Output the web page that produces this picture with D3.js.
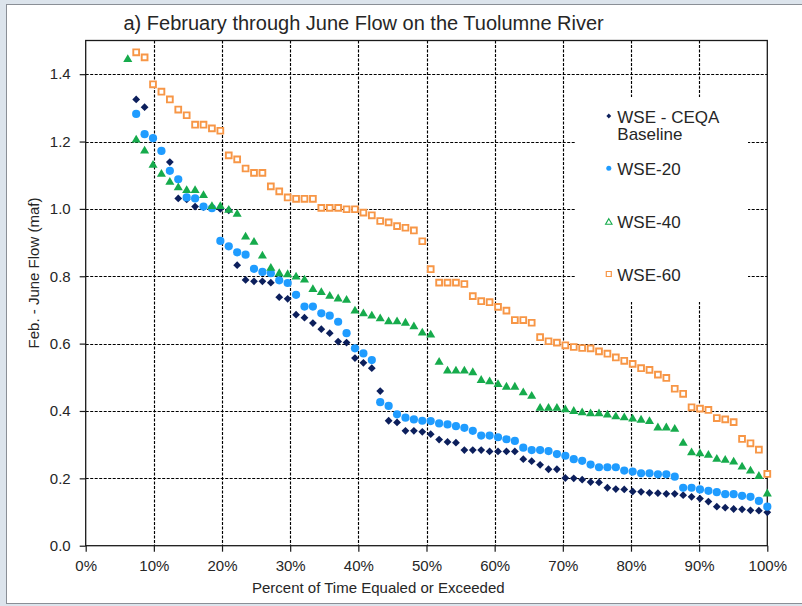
<!DOCTYPE html>
<html>
<head>
<meta charset="utf-8">
<script src="https://cdn.jsdelivr.net/npm/d3@7"></script>
<style>
  html, body { margin: 0; padding: 0; background: #dce4ec; }
  svg { display: block; }
  text { font-family: "Liberation Sans", Arial, sans-serif; fill: #262626; }
</style>
</head>
<body>
<svg id="chart" width="802" height="606"></svg>
<script>
// ---- Chart text ----
const chartTitle = "a) February through June Flow on the Tuolumne River";
const xAxisTitle = "Percent of Time Equaled or Exceeded";
const yAxisTitle = "Feb. - June Flow (maf)";

// ---- Axis ticks ----
const xTickValues = [0, 10, 20, 30, 40, 50, 60, 70, 80, 90, 100];
const yTickValues = [0, 0.2, 0.4, 0.6, 0.8, 1.0, 1.2, 1.4];
const yAxisMax = 1.5;

// ---- Series ----
// Years in the record; each value is ranked (1 = wettest) and plotted at rank / nYears.
const nYears = 81;
const seriesNames = ["WSE - CEQA Baseline", "WSE-20", "WSE-40", "WSE-60"];
const legendLines = [["WSE - CEQA", "Baseline"], ["WSE-20"], ["WSE-40"], ["WSE-60"]];
// Rank of the first value in each list (wetter years lie above 1.5 maf).
const firstRank = [6, 6, 5, 6];

const baselineFlow = [
  1.325, 1.302, 1.210, 1.172, 1.139, 1.031, 1.028, 1.007, 1.005, 1.003,
  1.000, 0.996, 0.833, 0.789, 0.785, 0.785, 0.781, 0.738, 0.733, 0.686,
  0.677, 0.661, 0.643, 0.631, 0.606, 0.603, 0.557, 0.543, 0.527, 0.459,
  0.371, 0.366, 0.341, 0.341, 0.338, 0.331, 0.315, 0.308, 0.306, 0.284,
  0.284, 0.284, 0.280, 0.280, 0.280, 0.280, 0.257, 0.251, 0.240, 0.227,
  0.227, 0.201, 0.200, 0.196, 0.189, 0.188, 0.172, 0.168, 0.167, 0.161,
  0.160, 0.157, 0.156, 0.154, 0.154, 0.150, 0.145, 0.140, 0.131, 0.116,
  0.113, 0.109, 0.108, 0.105, 0.104, 0.099
];
const wse20Flow = [
  1.282, 1.222, 1.210, 1.172, 1.113, 1.088, 1.034, 1.031, 1.007, 1.002,
  0.905, 0.889, 0.871, 0.864, 0.822, 0.813, 0.809, 0.788, 0.780, 0.745,
  0.710, 0.710, 0.690, 0.683, 0.665, 0.631, 0.586, 0.571, 0.551, 0.426,
  0.415, 0.390, 0.380, 0.375, 0.371, 0.370, 0.363, 0.360, 0.355, 0.350,
  0.341, 0.327, 0.327, 0.322, 0.316, 0.311, 0.291, 0.284, 0.284, 0.281,
  0.272, 0.267, 0.257, 0.252, 0.241, 0.233, 0.233, 0.233, 0.223, 0.220,
  0.215, 0.215, 0.212, 0.212, 0.205, 0.172, 0.172, 0.167, 0.163, 0.159,
  0.153, 0.153, 0.148, 0.145, 0.133, 0.116
];
const wse40Flow = [
  1.447, 1.208, 1.175, 1.133, 1.106, 1.082, 1.066, 1.058, 1.058, 1.043,
  1.010, 1.010, 0.999, 0.987, 0.920, 0.904, 0.863, 0.827, 0.811, 0.808,
  0.801, 0.792, 0.764, 0.755, 0.744, 0.736, 0.732, 0.700, 0.692, 0.685,
  0.677, 0.668, 0.668, 0.664, 0.653, 0.635, 0.629, 0.548, 0.522, 0.522,
  0.522, 0.517, 0.494, 0.490, 0.482, 0.474, 0.474, 0.457, 0.447, 0.411,
  0.411, 0.411, 0.407, 0.402, 0.398, 0.395, 0.395, 0.391, 0.386, 0.383,
  0.379, 0.376, 0.372, 0.353, 0.353, 0.349, 0.307, 0.279, 0.276, 0.272,
  0.260, 0.257, 0.252, 0.237, 0.225, 0.209, 0.157
];
const wse60Flow = [
  1.465, 1.450, 1.370, 1.348, 1.325, 1.295, 1.278, 1.250, 1.250, 1.239,
  1.232, 1.159, 1.147, 1.120, 1.107, 1.107, 1.067, 1.052, 1.034, 1.030,
  1.030, 1.030, 1.003, 1.003, 1.003, 0.999, 0.999, 0.989, 0.981, 0.964,
  0.960, 0.949, 0.944, 0.936, 0.904, 0.821, 0.781, 0.781, 0.781, 0.777,
  0.741, 0.726, 0.723, 0.709, 0.698, 0.670, 0.670, 0.662, 0.619, 0.607,
  0.603, 0.595, 0.590, 0.587, 0.586, 0.577, 0.570, 0.559, 0.549, 0.540,
  0.527, 0.522, 0.508, 0.498, 0.466, 0.451, 0.411, 0.407, 0.403, 0.379,
  0.375, 0.367, 0.317, 0.304, 0.285, 0.213
];
const seriesValues = [baselineFlow, wse20Flow, wse40Flow, wse60Flow];

// ---- Styling ----
const colors = ["#0c1f5c", "#1f9cff", "#16ab4c", "#f79646"];
const markerKinds = ["diamond", "circle", "triangle", "square"];

const svg = d3.select("#chart");
const plot = { left: 85.7, right: 767.3, top: 40.5, bottom: 545.7 };

const x = d3.scaleLinear().domain([0, 100]).range([plot.left, plot.right]);
const y = d3.scaleLinear().domain([0, yAxisMax]).range([plot.bottom, plot.top]);

// Chart area background with its thin frame
svg.append("rect")
  .attr("x", 6.5).attr("y", 4.5).attr("width", 820).attr("height", 599)
  .attr("fill", "#ffffff").attr("stroke", "#8a8f96").attr("stroke-width", 1);

// Title
svg.append("text")
  .attr("x", 123.5).attr("y", 29.5)
  .attr("font-size", 20)
  .text(chartTitle);

// Dashed gridlines
const grid = svg.append("g").attr("stroke", "#000000").attr("stroke-width", 1.15)
  .attr("stroke-dasharray", "3,1.5").attr("fill", "none");
grid.selectAll("line.v").data(xTickValues.filter(d => d > 0 && d < 100)).join("line")
  .attr("class", "v")
  .attr("x1", d => Math.round(x(d)) + 0.5).attr("x2", d => Math.round(x(d)) + 0.5)
  .attr("y1", plot.top).attr("y2", plot.bottom);
grid.selectAll("line.h").data(yTickValues.filter(d => d > 0)).join("line")
  .attr("class", "h")
  .attr("y1", d => Math.round(y(d)) + 0.5).attr("y2", d => Math.round(y(d)) + 0.5)
  .attr("x1", plot.left).attr("x2", plot.right);

// Legend panel sits over the gridlines
const legendBox = { x: 575, y: 97, w: 173, h: 205 };
svg.append("rect")
  .attr("x", legendBox.x).attr("y", legendBox.y)
  .attr("width", legendBox.w).attr("height", legendBox.h)
  .attr("fill", "#ffffff");

// Plot frame
svg.append("rect")
  .attr("x", plot.left).attr("y", plot.top)
  .attr("width", plot.right - plot.left).attr("height", plot.bottom - plot.top)
  .attr("fill", "none").attr("stroke", "#1a1a1a").attr("stroke-width", 1.3);

// Axes
const xAxis = d3.axisBottom(x).tickValues(xTickValues)
  .tickFormat(d => d + "%").tickSize(6).tickPadding(8.3);
const yAxis = d3.axisLeft(y).tickValues(yTickValues)
  .tickFormat(d3.format(".1f")).tickSize(6).tickPadding(9);

const gx = svg.append("g").attr("transform", `translate(0,${plot.bottom})`).call(xAxis);
const gy = svg.append("g").attr("transform", `translate(${plot.left},0)`).call(yAxis);
[gx, gy].forEach(g => {
  g.select(".domain").remove();
  g.selectAll(".tick line").attr("stroke", "#1a1a1a").attr("stroke-width", 1.2);
  g.selectAll(".tick text").attr("font-size", 15)
    .attr("font-family", "'Liberation Sans', Arial, sans-serif").attr("fill", "#262626");
});

// Axis titles
svg.append("text")
  .attr("x", 252).attr("y", 593)
  .attr("font-size", 15)
  .text(xAxisTitle);
svg.append("text")
  .attr("transform", "translate(38.7,273) rotate(-90)")
  .attr("text-anchor", "middle")
  .attr("font-size", 15)
  .text(yAxisTitle);

// Marker shapes
function markerPath(kind, s) {
  switch (kind) {
    case "diamond": return `M0,${-s}L${s},0L0,${s}L${-s},0Z`;
    case "triangle": return `M0,${-s}L${s * 1.08},${s * 0.85}L${-s * 1.08},${s * 0.85}Z`;
    case "square": return `M${-s},${-s}H${s}V${s}H${-s}Z`;
    default: return d3.arc()({ innerRadius: 0, outerRadius: s, startAngle: 0, endAngle: 2 * Math.PI });
  }
}

// Data points (each series drawn over the previous one)
seriesValues.forEach((vals, si) => {
  const pts = vals.map((v, k) => ({ pct: (firstRank[si] + k) / nYears * 100, v }));
  const kind = markerKinds[si];
  const g = svg.append("g").attr("class", "series");
  const sel = g.selectAll("path").data(pts).join("path")
    .attr("transform", d => `translate(${x(d.pct)},${y(d.v)})`);
  if (kind === "diamond") sel.attr("d", markerPath(kind, 3.9)).attr("fill", colors[si]);
  if (kind === "circle") sel.attr("d", markerPath(kind, 4.1)).attr("fill", colors[si]);
  if (kind === "triangle") sel.attr("d", markerPath(kind, 4.2)).attr("fill", colors[si]);
  if (kind === "square") sel.attr("d", markerPath(kind, 2.9))
    .attr("fill", "#ffffff").attr("stroke", colors[si]).attr("stroke-width", 1.9);
});

// Legend entries
const legendRows = [116, 168.3, 221.7, 274];
const lg = svg.append("g");
legendLines.forEach((lines, i) => {
  const kind = markerKinds[i];
  const m = lg.append("path").attr("transform", `translate(608.8,${legendRows[i]})`);
  if (kind === "diamond") m.attr("d", markerPath(kind, 2.4)).attr("fill", colors[i]);
  if (kind === "circle") m.attr("d", markerPath(kind, 2.5)).attr("fill", colors[i]);
  if (kind === "triangle") m.attr("d", markerPath(kind, 3.0)).attr("fill", "#ffffff")
    .attr("stroke", colors[i]).attr("stroke-width", 1.1);
  if (kind === "square") m.attr("d", markerPath(kind, 2.5)).attr("fill", "#ffffff")
    .attr("stroke", colors[i]).attr("stroke-width", 1.2);
  const t = lg.append("text").attr("x", 617.3).attr("y", legendRows[i] + 6.5).attr("font-size", 17);
  lines.forEach((ln, j) => {
    t.append("tspan").attr("x", 617.3).attr("dy", j === 0 ? 0 : 17.5).text(ln);
  });
});
</script>
</body>
</html>
